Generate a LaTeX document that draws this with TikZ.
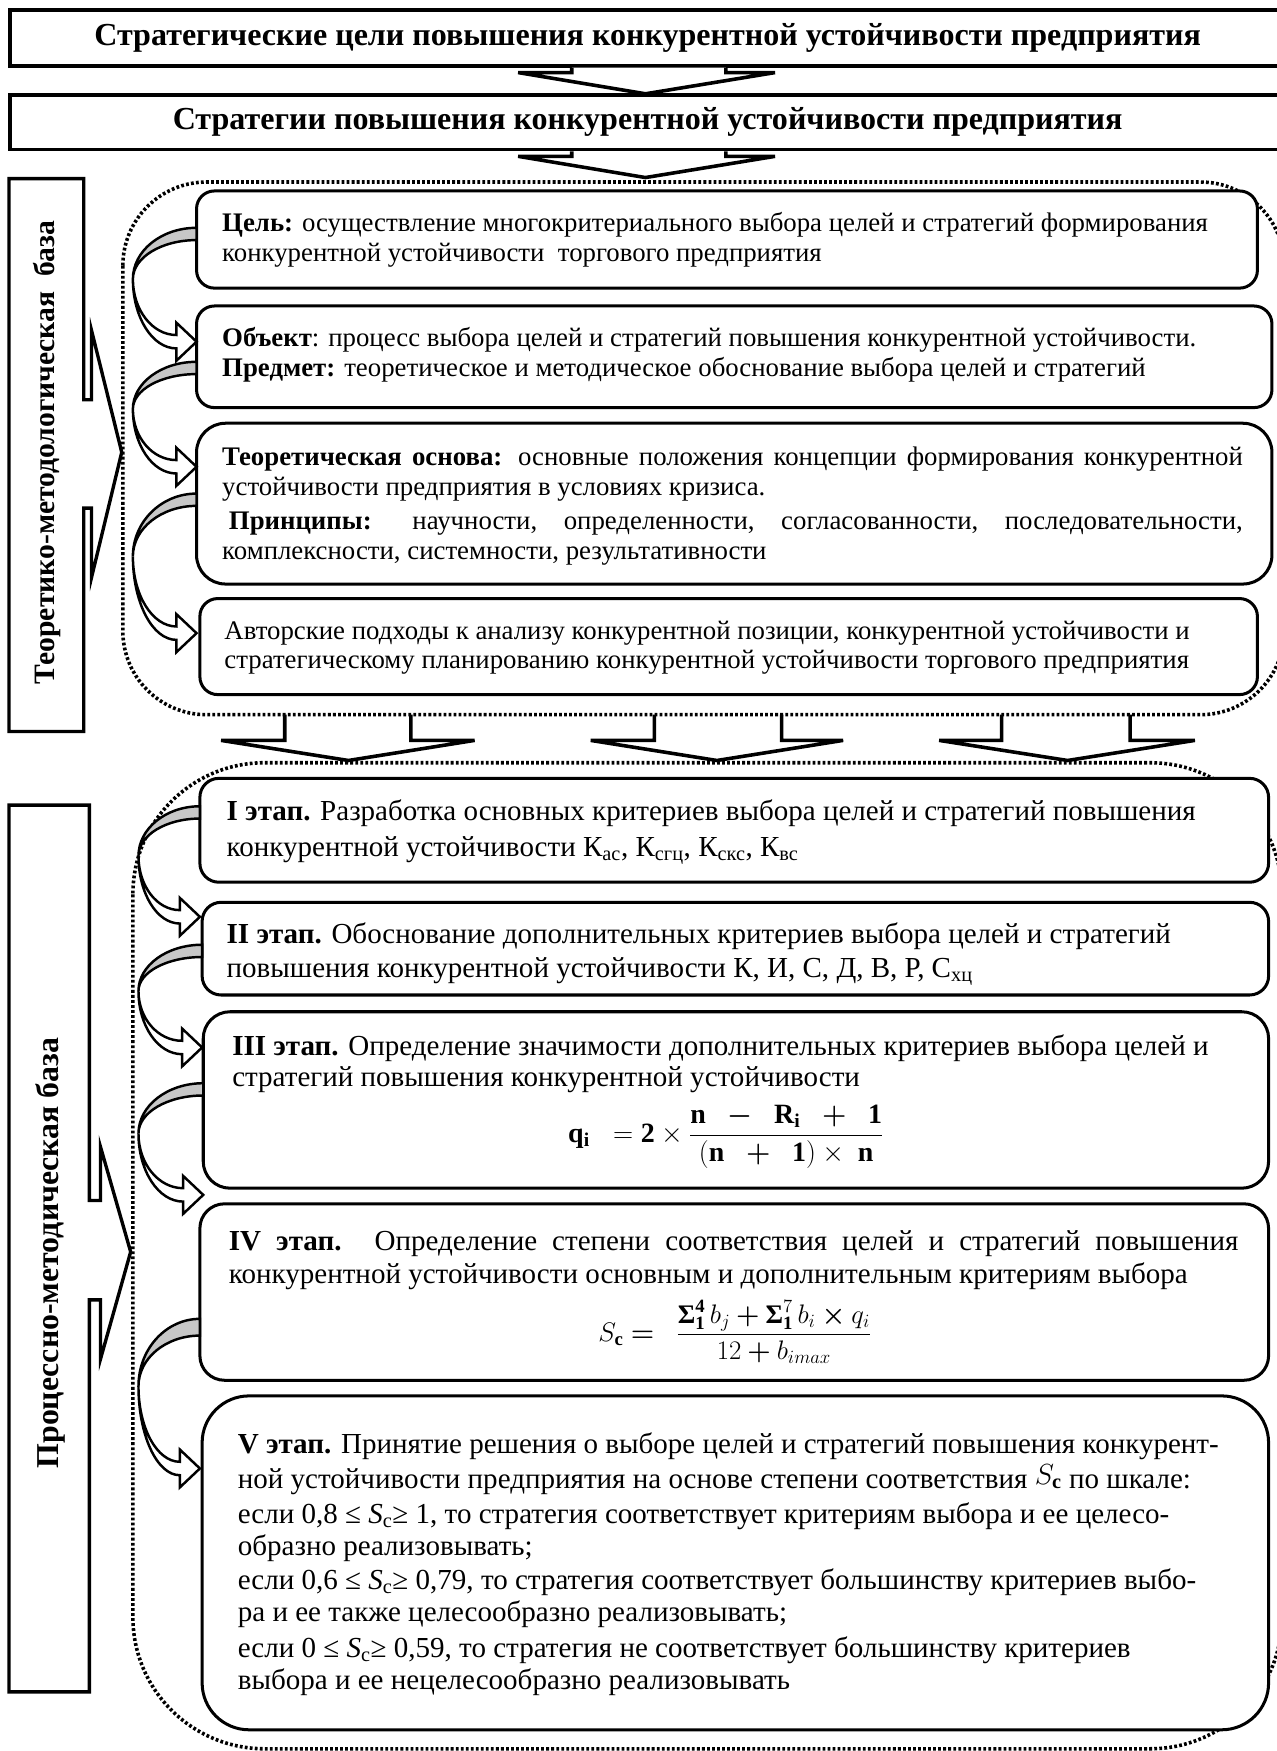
\RequirePackage{fix-cm}
\documentclass[tikz,border=0pt]{standalone}
\usepackage{amsmath}
\usepackage{fontspec}
\setmainfont{Liberation Serif}
\usetikzlibrary{calc}
\newcommand\cvarrow[5]{%
 \pgfmathsetmacro\ym{#2+0.45*(#3-#2)}%
 \pgfmathsetmacro\Rg{#1-#4}%
 \pgfmathsetmacro\ryo{\ym-#2}%
 \pgfmathsetmacro\ryi{\ym-#2-#5}%
 \pgfmathsetmacro\xh{#1-18}%
 \pgfmathsetmacro\Rw{\xh-#4}%
 \pgfmathsetmacro\rwo{#3+6-\ym}%
 \pgfmathsetmacro\rwi{#3-6-\ym}%
 \draw[cwhite] (#4,\ym) arc[start angle=180,end angle=90,x radius=\Rw,y radius=\rwo]
   -- (\xh,#3+17) -- (#1,#3) -- (\xh,#3-17) -- (\xh,#3-6)
   arc[start angle=90,end angle=180,x radius=\Rw,y radius=\rwi] -- cycle;
 \draw[cgray] (#1,#2) arc[start angle=270,end angle=180,x radius=\Rg,y radius=\ryo]
   arc[start angle=180,end angle=270,x radius=\Rg,y radius=\ryi] -- cycle;
}
\begin{document}
\begin{tikzpicture}[x=1pt,y=-1pt,
  every node/.style={inner sep=0pt, outer sep=0pt},
  topbox/.style={draw, line width=3.2pt, fill=white, anchor=north west, minimum width=1142pt},
  rbox/.style={draw, line width=2.7pt, fill=white, anchor=north west, rounded corners=#1},
  rbox/.default=17pt,
  sidebox/.style={draw, line width=3pt, fill=white, line join=miter},
  blockarr/.style={draw, line width=3.2pt, fill=white, line join=miter},
  dotline/.style={line width=3.2pt, dash pattern=on 2.5pt off 2pt},
  cgray/.style={draw, line width=2.2pt, fill=black!22},
  cwhite/.style={draw, line width=2.2pt, fill=white},
  up/.style={anchor=base west, font=\fontsize{24}{27}\selectfont},
  lo/.style={anchor=base west, font=\fontsize{26}{30}\selectfont},
  ttl/.style={font=\bfseries\fontsize{28.7}{32}\selectfont},
  side/.style={rotate=90}]
\useasboundingbox (0,0) rectangle (1143,1568);

% ---- region coordinates
\coordinate (rAtop) at (578,163);
\coordinate (rAbot) at (578,640);
\coordinate (rBtop) at (578,683);

% ---- top boxes
\node[topbox, minimum height=50pt] (b1) at (9,9) {};
\node[topbox, minimum height=49pt] (b2) at (9,85) {};
\node[ttl] (t1) at (b1.center) {Стратегические цели повышения конкурентной устойчивости предприятия};
\node[ttl] (t2) at (b2.center) {Стратегии повышения конкурентной устойчивости предприятия};

% ---- top block arrows
\draw[blockarr] ($(b1.south)+(-68,1.6)$) -- ($(b1.south)+(-68,6)$) -- ($(b1.south)+(-116,6)$)
  -- ($(b2.north)+(-2,-1)$) -- ($(b1.south)+(114,6)$) -- ($(b1.south)+(70,6)$) -- ($(b1.south)+(70,1.6)$);
\draw[blockarr] ($(b2.south)+(-68,1.6)$) -- ($(b2.south)+(-68,6)$) -- ($(b2.south)+(-116,6)$)
  -- ($(rAtop)+(0,-4)$) -- ($(b2.south)+(114,6)$) -- ($(b2.south)+(70,6)$) -- ($(b2.south)+(70,1.6)$);

% ---- middle block arrows
\draw[blockarr] (255,640) -- (255,663) -- (198,663) -- (312,681) -- (425,663) -- (368,663) -- (368,640);
\draw[blockarr] (586,640) -- (586,663) -- (529,663) -- (642,681) -- (755,663) -- (700,663) -- (700,640);
\draw[blockarr] (897,640) -- (897,663) -- (841,663) -- (956,681) -- (1070,663) -- (1012,663) -- (1012,640);

% ---- dotted regions
\draw[dotline, rounded corners=75pt] (110,163) rectangle (1150,640);
\draw[dotline, rounded corners=118pt] (119,683) rectangle (1148,1566);

% ---- side callout boxes
\draw[sidebox] (75,358) -- (75,160) -- (8,160) -- (8,655) -- (75,655) -- (75,455) -- (82,455)
  -- (82,517) -- (109,405) -- (82,296) -- (82,358) -- cycle;
\node[side, font=\bfseries\fontsize{26.5}{30}\selectfont] (sa) at (42,405) {Теоретико-методологическая\ \ база};
\draw[sidebox] (80,1075) -- (80,721) -- (8,721) -- (8,1515) -- (80,1515) -- (80,1164) -- (90,1164)
  -- (90,1217) -- (117,1121) -- (90,1027) -- (90,1075) -- cycle;
\node[side, font=\bfseries\fontsize{28.5}{30}\selectfont] (sb) at (45,1122) {Процессно-методическая база};

% ---- upper boxes
\node[rbox=16pt, minimum width=950pt, minimum height=87pt] (goal) at (176,171) {};
\node[rbox=16pt, minimum width=963pt, minimum height=91pt] (obj) at (176,274) {};
\node[rbox=26pt, minimum width=963pt, minimum height=144pt] (theo) at (176,379) {};
\node[rbox=16pt, minimum width=947pt, minimum height=86pt] (auth) at (179,536) {};

\node[up] (g1) at (199,207) {\textbf{Цель:} осуществление многокритериального выбора целей и стратегий формирования};
\node[up] (g2) at (199,234.5) {конкурентной устойчивости\ \ торгового предприятия};
\node[up] (o1) at (199,310) {\textbf{Объект}: процесс выбора целей и стратегий повышения конкурентной устойчивости.};
\node[up] (o2) at (199,337) {\textbf{Предмет:} теоретическое и методическое обоснование выбора целей и стратегий};
\node[up] (th1) at (199,417) {\makebox[914pt][s]{\textbf{Теоретическая основа:} основные положения концепции формирования конкурентной}};
\node[up] (th2) at (199,444) {устойчивости предприятия в условиях кризиса.};
\node[up] (th3) at (205,474) {\makebox[908pt][s]{\textbf{Принципы:} научности, определенности, согласованности, последовательности,}};
\node[up] (th4) at (199,501) {комплексности, системности, результативности};
\node[up] (a1) at (201,573) {Авторские подходы к анализу конкурентной позиции, конкурентной устойчивости и};
\node[up] (a2) at (201,599) {стратегическому планированию конкурентной устойчивости торгового предприятия};

% ---- lower boxes
\node[rbox=17pt, minimum width=957pt, minimum height=93pt] (s1) at (179,697) {};
\node[rbox=17pt, minimum width=955pt, minimum height=83pt] (s2) at (181,808) {};
\node[rbox=24pt, minimum width=954pt, minimum height=158pt] (s3) at (182,906) {};
\node[rbox=22pt, minimum width=957pt, minimum height=158pt] (s4) at (179,1078) {};
\node[rbox=42pt, minimum width=955pt, minimum height=299pt] (s5) at (181,1250) {};

\node[lo] (i1) at (203,735) {\textbf{I этап.} Разработка основных критериев выбора целей и стратегий повышения};
\node[lo] (i2) at (203,767) {конкурентной устойчивости К\textsubscript{ас}, К\textsubscript{сгц}, К\textsubscript{скс}, К\textsubscript{вс}};
\node[lo] (ii1) at (203,845) {\textbf{II этап.} Обоснование дополнительных критериев выбора целей и стратегий};
\node[lo] (ii2) at (203,875) {повышения конкурентной устойчивости К, И, С, Д, В, Р, С\textsubscript{хц}};
\node[lo] (iii1) at (208,945) {\textbf{III этап.} Определение значимости дополнительных критериев выбора целей и};
\node[lo] (iii2) at (208,973) {стратегий повышения конкурентной устойчивости};
\node[font=\fontsize{25}{28}\selectfont] (f3) at (650,1018)
  {$\mathbf{q}_{\mathbf{i}}\;\;=\mathbf{2}\times\dfrac{\mathbf{n}\;\;\boldsymbol{-}\;\;\mathbf{R}_{\mathbf{i}}\;\;\boldsymbol{+}\;\;\mathbf{1}}{(\mathbf{n}\;\;\boldsymbol{+}\;\;\mathbf{1})\times\;\mathbf{n}}$};
\node[lo] (iv1) at (205,1120) {\makebox[904pt][s]{\textbf{IV этап.} Определение степени соответствия целей и стратегий повышения}};
\node[lo] (iv2) at (205,1149) {конкурентной устойчивости основным и дополнительным критериям выбора};
\node[font=\fontsize{24}{28}\selectfont] (f4) at (658,1193)
  {$S_{\mathbf{c}}\boldsymbol{=}\;\;\dfrac{\text{\bfseries Σ}^{\mathbf{4}}_{\mathbf{1}}\,b_j\boldsymbol{+}\text{\bfseries Σ}^{7}_{\mathbf{1}}\,b_i\boldsymbol{\times}q_i}{12\boldsymbol{+}b_{imax}}$};
\node[lo] (v1) at (213,1302) {\textbf{V этап.} Принятие решения о выборе целей и стратегий повышения конкурент-};
\node[lo] (v2) at (213,1333) {ной устойчивости предприятия на основе степени соответствия \raisebox{4pt}{$S_{\mathbf{c}}$} по шкале:};
\node[lo] (v3) at (213,1364) {если 0,8 ≤ \textit{S}\textsubscript{c}≥ 1, то стратегия соответствует критериям выбора и ее целесо-};
\node[lo] (v4) at (213,1393) {образно реализовывать;};
\node[lo] (v5) at (213,1423) {если 0,6 ≤ \textit{S}\textsubscript{c}≥ 0,79, то стратегия соответствует большинству критериев выбо-};
\node[lo] (v6) at (213,1452) {ра и ее также целесообразно реализовывать;};
\node[lo] (v7) at (213,1484) {если 0 ≤ \textit{S}\textsubscript{c}≥ 0,59, то стратегия не соответствует большинству критериев};
\node[lo] (v8) at (213,1513) {выбора и ее нецелесообразно реализовывать};

% ---- curved arrows
\cvarrow{176}{204}{306}{119}{11}
\cvarrow{176}{324}{418}{119}{11}
\cvarrow{176}{442}{567}{119}{11}
\cvarrow{179}{722}{821}{124}{11}
\cvarrow{181}{846}{938}{124}{11}
\cvarrow{182}{970}{1070}{124}{11}
\cvarrow{179}{1181}{1315}{124}{15}
\end{tikzpicture}
\end{document}
